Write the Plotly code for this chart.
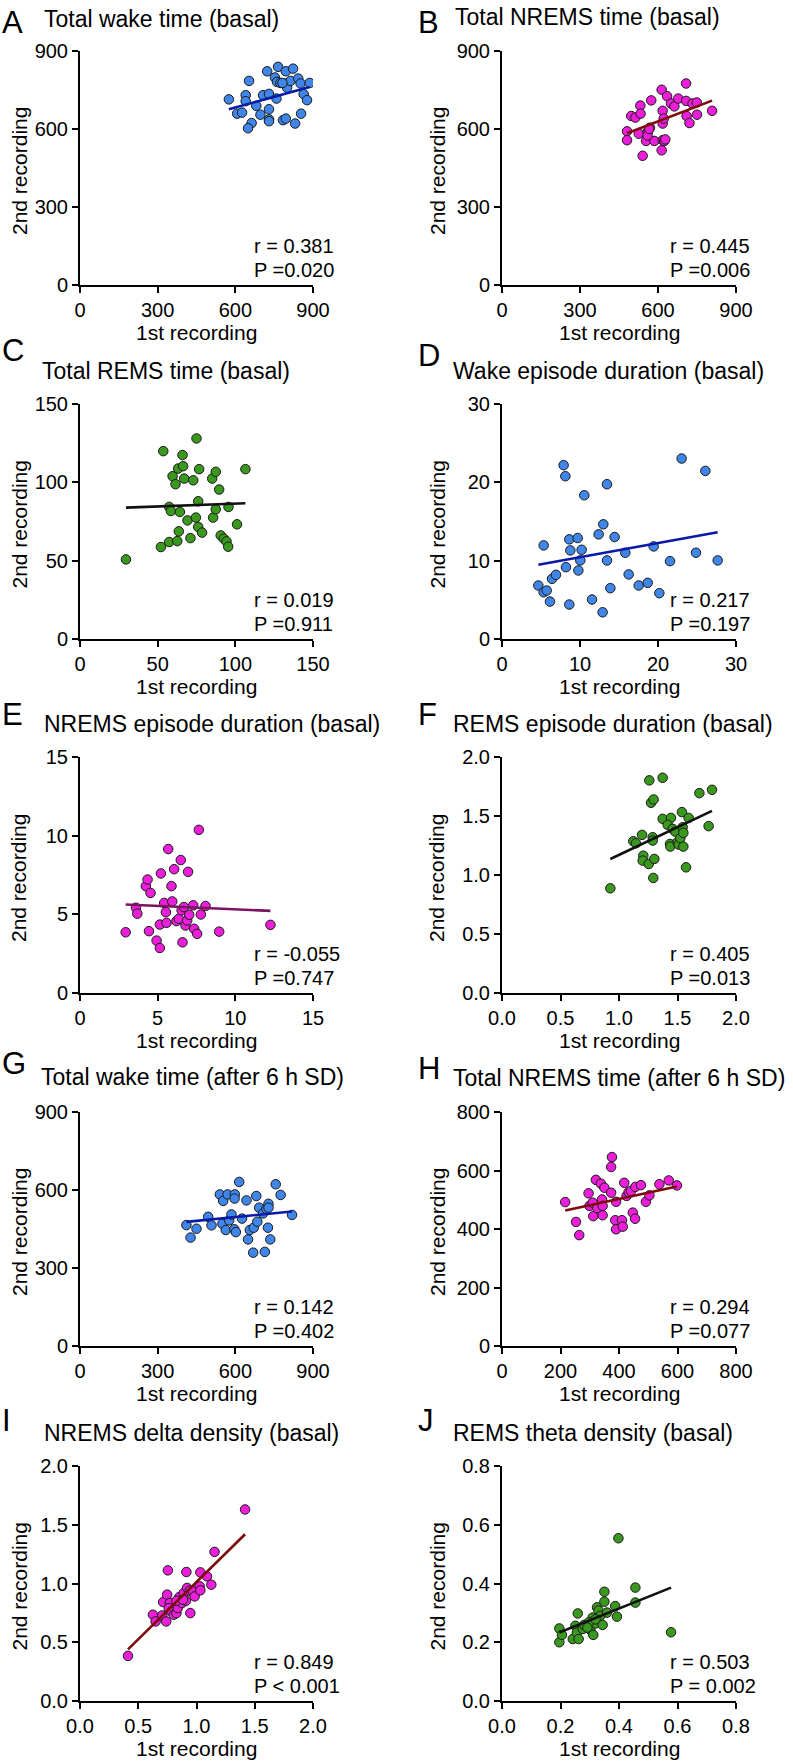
import numpy as np
import plotly.graph_objects as go

# ---------------- data ----------------
letters = ["A", "B", "C", "D", "E", "F", "G", "H", "I", "J"]
titles = ["Total wake time (basal)", "Total NREMS time (basal)", "Total REMS time (basal)",
          "Wake episode duration (basal)", "NREMS episode duration (basal)",
          "REMS episode duration (basal)", "Total wake time (after 6 h SD)",
          "Total NREMS time (after 6 h SD)", "NREMS delta density (basal)",
          "REMS theta density (basal)"]
r_texts = ["r = 0.381", "r = 0.445", "r = 0.019", "r = 0.217", "r = -0.055",
           "r = 0.405", "r = 0.142", "r = 0.294", "r = 0.849", "r = 0.503"]
p_texts = ["P =0.020", "P =0.006", "P =0.911", "P =0.197", "P =0.747",
           "P =0.013", "P =0.402", "P =0.077", "P < 0.001", "P = 0.002"]
x_title = "1st recording"
y_title = "2nd recording"

ticks_A = [0, 300, 600, 900]
ticks_C = [0, 50, 100, 150]
ticks_D = [0, 10, 20, 30]
ticks_E = [0, 5, 10, 15]
ticks_F = [0.0, 0.5, 1.0, 1.5, 2.0]
ticks_H = [0, 200, 400, 600, 800]
ticks_J = [0.0, 0.2, 0.4, 0.6, 0.8]

A_x = [575, 653, 640, 640, 607, 626, 681, 663, 649, 697, 707, 730, 730, 730, 723, 765, 753, 761, 774, 759,
       795, 823, 795, 800, 813, 843, 852, 887, 864, 877, 854, 784, 795, 831, 782, 730]
A_y = [714, 785, 730, 707, 659, 663, 689, 623, 603, 655, 730, 735, 676, 637, 822, 839, 798, 781, 777, 717,
       822, 832, 775, 759, 785, 794, 775, 777, 734, 711, 659, 634, 640, 621, 777, 630]

B_x = [481, 481, 497, 513, 532, 533, 526, 541, 554, 560, 569, 574, 586, 618, 624, 614, 614, 618, 618, 622,
       635, 650, 663, 678, 708, 708, 710, 721, 733, 749, 750, 808, 560, 566, 628]
B_y = [591, 557, 650, 644, 690, 659, 582, 497, 554, 589, 605, 710, 554, 557, 554, 518, 751, 670, 621, 640,
       726, 698, 687, 717, 775, 708, 650, 623, 698, 702, 655, 670, 575, 600, 560]

C_x = [29.6, 52.1, 57.4, 62.6, 63.6, 71.1, 53.6, 66.0, 75.0, 59.6, 61.5, 63.2, 66.4, 67.1, 72.9, 76.7,
       85.1, 87.4, 89.6, 106.5, 57.4, 58.5, 64.3, 69.2, 74.6, 76.1, 76.1, 78.6, 85.7, 87.4, 95.6, 101.1,
       90.6, 92.6, 94.3, 95.4]
C_y = [50.8, 58.7, 61.9, 62.5, 68.7, 64.4, 119.9, 117.4, 128.0, 103.9, 98.8, 108.8, 110.3, 102.4, 101.3,
       108.4, 102.4, 106.7, 95.4, 108.4, 84.3, 81.7, 81.1, 75.7, 77.5, 87.9, 71.5, 67.9, 77.5, 82.8, 84.3,
       73.2, 66.1, 64.0, 62.3, 58.9]

D_x = [4.66, 5.34, 5.34, 5.73, 6.15, 6.41, 6.92, 7.90, 8.12, 8.20, 8.63, 8.76, 8.63, 9.70, 9.79, 10.04,
       10.21, 10.55, 11.54, 12.39, 12.99, 12.90, 13.46, 13.46, 13.89, 14.44, 15.81, 16.24, 17.52, 18.68,
       19.44, 20.17, 21.54, 23.03, 24.87, 26.07, 27.65]
D_y = [6.83, 11.95, 5.97, 6.19, 4.78, 7.68, 8.19, 22.19, 20.78, 9.17, 12.72, 11.31, 4.40, 12.89, 8.75,
       10.03, 11.39, 18.35, 5.04, 13.36, 14.64, 3.41, 19.76, 10.03, 6.49, 13.02, 11.01, 8.24, 6.83, 7.17,
       11.82, 5.85, 9.94, 23.04, 11.01, 21.46, 10.03]

E_x = [2.94, 3.60, 3.69, 4.24, 4.35, 4.54, 4.44, 4.93, 5.14, 5.14, 5.21, 5.42, 5.53, 5.57, 5.68, 5.89,
       5.94, 6.06, 6.21, 6.36, 6.49, 6.54, 6.69, 6.60, 6.79, 6.90, 6.96, 7.03, 7.29, 7.35, 7.54, 7.65,
       7.78, 8.08, 8.96, 12.26]
E_y = [3.86, 5.42, 5.04, 6.79, 7.21, 6.36, 3.93, 3.33, 2.86, 4.35, 7.60, 5.72, 5.14, 4.46, 9.15, 6.79,
       5.82, 7.87, 4.57, 4.72, 8.45, 5.25, 5.46, 3.22, 4.29, 4.61, 7.70, 4.97, 5.57, 4.08, 3.76, 10.37,
       4.99, 5.53, 3.90, 4.33]

F_x = [0.926, 1.122, 1.145, 1.197, 1.208, 1.202, 1.254, 1.302, 1.293, 1.288, 1.288, 1.259, 1.274, 1.296,
       1.373, 1.373, 1.444, 1.416, 1.436, 1.439, 1.459, 1.481, 1.501, 1.510, 1.524, 1.538, 1.544, 1.550,
       1.550, 1.573, 1.595, 1.687, 1.766, 1.795]
F_y = [0.887, 1.286, 1.269, 1.340, 1.164, 1.122, 1.093, 1.136, 0.975, 1.320, 1.292, 1.802, 1.612, 1.640,
       1.824, 1.476, 1.484, 1.425, 1.263, 1.241, 1.391, 1.368, 1.278, 1.258, 1.312, 1.533, 1.405, 1.357,
       1.241, 1.065, 1.484, 1.694, 1.414, 1.722]

G_x = [411, 427, 450, 495, 508, 540, 553, 550, 563, 570, 576, 585, 598, 597, 596, 602, 615, 626, 643, 649,
       656, 669, 671, 681, 685, 692, 707, 714, 720, 728, 728, 726, 735, 756, 775, 819]
G_y = [465, 417, 451, 497, 464, 583, 558, 470, 446, 583, 483, 506, 583, 567, 449, 438, 631, 490, 560, 410,
       446, 359, 455, 577, 478, 532, 510, 362, 528, 547, 532, 455, 410, 622, 581, 504]

H_x = [216, 253, 264, 296, 299, 310, 312, 321, 326, 338, 342, 344, 344, 350, 373, 376, 373, 390, 387, 390,
       410, 413, 418, 426, 433, 441, 447, 455, 456, 475, 492, 504, 538, 570, 598]
H_y = [492, 424, 379, 522, 479, 490, 444, 568, 471, 555, 501, 479, 447, 541, 524, 646, 612, 493, 430, 399,
       430, 408, 558, 513, 526, 530, 456, 435, 544, 550, 493, 515, 553, 566, 549]

I_x = [0.412, 0.626, 0.649, 0.714, 0.706, 0.740, 0.748, 0.754, 0.771, 0.762, 0.785, 0.805, 0.828, 0.839,
       0.853, 0.876, 0.890, 0.910, 0.913, 0.919, 0.942, 0.947, 0.970, 0.984, 1.033, 1.027, 1.033, 1.090,
       1.127, 1.155, 1.417, 0.828, 0.884]
I_y = [0.384, 0.734, 0.677, 0.842, 0.728, 0.677, 0.905, 1.112, 0.834, 0.791, 0.762, 0.734, 0.748, 0.791,
       0.885, 0.834, 0.919, 0.853, 1.098, 0.962, 0.939, 0.748, 0.933, 0.890, 1.095, 0.976, 0.942, 1.061,
       0.990, 1.269, 1.630, 0.853, 0.862]

J_x = [0.196, 0.196, 0.205, 0.242, 0.251, 0.259, 0.256, 0.262, 0.276, 0.281, 0.302, 0.312, 0.310, 0.319,
       0.325, 0.330, 0.336, 0.344, 0.350, 0.350, 0.359, 0.387, 0.393, 0.398, 0.456, 0.456, 0.578, 0.297,
       0.320, 0.292]
J_y = [0.247, 0.200, 0.225, 0.211, 0.256, 0.298, 0.233, 0.211, 0.245, 0.259, 0.242, 0.225, 0.284, 0.264,
       0.319, 0.308, 0.290, 0.259, 0.338, 0.372, 0.301, 0.323, 0.287, 0.554, 0.386, 0.335, 0.234, 0.268,
       0.278, 0.250]

# ---------------- styles ----------------
BLUE, MAGENTA, GREEN = "#3F86E8", "#EC1EDA", "#3A981E"
L_BLUE, L_RED, L_BLACK, L_PURPLE = "#0A1AA8", "#7E0A0A", "#111111", "#7A1360"

panels = [
    (A_x, A_y, ticks_A, "d", BLUE, L_BLUE),
    (B_x, B_y, ticks_A, "d", MAGENTA, L_RED),
    (C_x, C_y, ticks_C, "d", GREEN, L_BLACK),
    (D_x, D_y, ticks_D, "d", BLUE, L_BLUE),
    (E_x, E_y, ticks_E, "d", MAGENTA, L_PURPLE),
    (F_x, F_y, ticks_F, ".1f", GREEN, L_BLACK),
    (G_x, G_y, ticks_A, "d", BLUE, L_BLUE),
    (H_x, H_y, ticks_H, "d", MAGENTA, L_RED),
    (I_x, I_y, ticks_F, ".1f", MAGENTA, L_RED),
    (J_x, J_y, ticks_J, ".1f", GREEN, L_BLACK),
]

W, H = 793, 1762
FONT = "Liberation Sans, Arial, sans-serif"
col_left = [(80, 313), (502, 736)]
row_tb = [(51, 285), (404, 639), (757, 993), (1112, 1346), (1466, 1701)]
letter_base = [33, 33, 361, 366, 725, 725, 1074, 1079, 1431, 1431]
title_base = [27, 25, 379, 379, 732, 732, 1085, 1086, 1441, 1441]
title_x = [42, 453, 40, 451, 42, 451, 39, 451, 42, 451]
letter_x = [0, 416]
stat_x = [252, 668]
ytitle_x = [19, 437]
STAT_SIZE = 20


def px(x):
    return x / W


def py(y):
    return 1 - y / H


fig = go.Figure()
layout = dict(template="none", width=W, height=H, autosize=False,
              margin=dict(l=0, r=0, t=0, b=0, pad=0, autoexpand=False),
              paper_bgcolor="white", plot_bgcolor="white", showlegend=False,
              font=dict(family=FONT, color="black"))
annotations = []

for i, (xs, ys, tv, fmt, fill, lcol) in enumerate(panels):
    n = i + 1
    col, row = i % 2, i // 2
    xl, xr = col_left[col]
    yt, yb = row_tb[row]
    xref = "x" if n == 1 else f"x{n}"
    yref = "y" if n == 1 else f"y{n}"

    xs_a = np.array(xs, dtype=float)
    ys_a = np.array(ys, dtype=float)
    fig.add_trace(go.Scatter(x=xs_a, y=ys_a, mode="markers", xaxis=xref, yaxis=yref,
                             marker=dict(size=9.5, color=fill, line=dict(color="#1a1a1a", width=1))))
    slope, icpt = np.polyfit(xs_a, ys_a, 1)
    fx = np.array([xs_a.min(), xs_a.max()])
    fig.add_trace(go.Scatter(x=fx, y=slope * fx + icpt, mode="lines", xaxis=xref, yaxis=yref,
                             line=dict(color=lcol, width=2.6)))

    ticktext = [format(t, fmt) if fmt != "d" else str(int(t)) for t in tv]
    axcommon = dict(range=[tv[0], tv[-1]], tickvals=tv, ticktext=ticktext, showline=True,
                    linecolor="black", linewidth=2, ticks="outside", ticklen=6, tickwidth=2,
                    tickcolor="black", showgrid=False, zeroline=False, automargin=False,
                    tickfont=dict(family=FONT, size=20, color="black"))
    layout["xaxis" if n == 1 else f"xaxis{n}"] = dict(domain=[px(xl), px(xr)], anchor=yref, **axcommon)
    layout["yaxis" if n == 1 else f"yaxis{n}"] = dict(domain=[py(yb), py(yt)], anchor=xref, **axcommon)

    def ann(text, x, y, size, xanchor="left", yanchor="middle", angle=0):
        annotations.append(dict(text=text, x=px(x), y=py(y), xref="paper", yref="paper",
                                xanchor=xanchor, yanchor=yanchor, showarrow=False, textangle=angle,
                                font=dict(family=FONT, size=size, color="black")))

    ann(letters[i], letter_x[col], letter_base[i] - 0.35 * 31, 31)
    ann(titles[i], title_x[i], title_base[i] - 0.35 * 23, 23)
    ann(r_texts[i], stat_x[col], yb - 32 - 0.35 * STAT_SIZE, STAT_SIZE)
    ann(p_texts[i], stat_x[col], yb - 8 - 0.35 * STAT_SIZE, STAT_SIZE)
    ann(x_title, (xl + xr) / 2, yb + 55 - 0.35 * 21, 21, xanchor="center")
    ann(y_title, ytitle_x[col], (yt + yb) / 2 + 3, 21, xanchor="center", angle=-90)

layout["annotations"] = annotations
fig.update_layout(**layout)
fig.write_html("out.html", config={"responsive": False, "displayModeBar": False},
               post_script="document.body.style.margin='0';document.body.style.overflow='hidden';")
